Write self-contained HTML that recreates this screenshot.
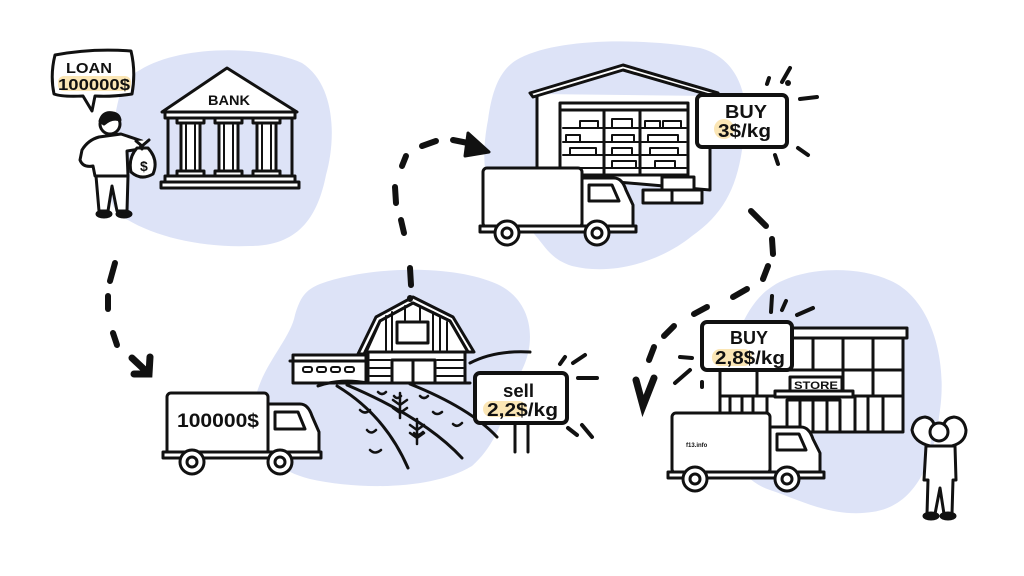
<!DOCTYPE html>
<html><head><meta charset="utf-8"><style>
html,body{margin:0;padding:0;background:#fff;}
svg{display:block;}
text{font-family:"Liberation Sans",sans-serif;font-weight:bold;fill:#111;}
</style></head><body>
<svg width="1024" height="576" viewBox="0 0 1024 576" xmlns="http://www.w3.org/2000/svg">
<rect width="1024" height="576" fill="#fff"/>
<!-- blobs -->
<g fill="#dde3f7">
<path d="M140,70 C180,45 262,45 302,63 C336,85 336,140 326,175 C318,215 300,246 250,246 C200,248 150,236 120,215 C100,195 104,150 114,120 C120,95 120,80 140,70 Z"/>
<path d="M520,58 C560,38 640,38 700,48 C745,60 752,110 742,150 C736,190 722,215 692,236 C660,262 612,276 572,266 C540,256 544,232 510,216 C484,200 480,160 488,120 C492,90 500,68 520,58 Z"/>
<path d="M320,284 C370,266 452,264 497,284 C532,300 537,340 522,370 C507,400 502,440 472,466 C432,490 360,490 310,479 C270,469 245,440 255,400 C262,365 290,340 295,315 C300,298 305,290 320,284 Z"/>
<path d="M770,288 C800,266 862,264 897,284 C932,305 947,360 940,410 C934,460 917,506 872,512 C832,518 800,500 770,490 C740,480 724,450 724,410 C722,370 740,308 770,288 Z"/>
</g>

<g stroke="#111" stroke-width="3" fill="#fff" stroke-linejoin="round" stroke-linecap="round">
<!-- speech bubble -->
<path d="M55,55 Q92,48 131,51 Q136,72 132,94 Q112,97 95,96 L92,111 L83,96 Q62,97 54,94 Q50,75 55,55 Z"/>
</g>
<rect x="58" y="76" width="73" height="15" rx="6" fill="#fbe6b5"/>
<text x="66" y="73" font-size="15" textLength="46" lengthAdjust="spacingAndGlyphs">LOAN</text>
<text x="58" y="90" font-size="16" textLength="72" lengthAdjust="spacingAndGlyphs">100000$</text>

<g stroke="#111" stroke-width="3" fill="#fff" stroke-linejoin="round" stroke-linecap="round">
<!-- person 1 -->
<path d="M99,137 Q88,140 82,150 L80,160 Q83,168 93,166 L95,176 L128,176 L127,151 L140,149 L142,141 L121,134 Z"/>
<path d="M96,176 L99,211 L108,211 L112,186 L117,211 L127,211 L128,176 Z"/>
<ellipse cx="104" cy="214" rx="7" ry="3" fill="#111"/>
<ellipse cx="124" cy="214" rx="7" ry="3" fill="#111"/>
<circle cx="110" cy="124" r="10"/>
<path d="M100,121 Q103,111 113,113 Q119,114 120,120 Q112,117 104,124 Z" fill="#111"/>
<!-- money bag -->
<path d="M137,148 Q128,158 131,172 Q141,181 153,174 Q159,160 148,148 Z"/>
<path d="M136,141 L142,146 L149,140 M142,146 L142,149"/>
<!-- bank -->
<path d="M162,112 L227,68 L297,112 Z"/>
<rect x="165" y="112" width="130" height="6"/>
<line x1="168" y1="118" x2="168" y2="176"/>
<line x1="292" y1="118" x2="292" y2="176"/>
<rect x="177" y="118" width="27" height="5"/>
<rect x="181" y="123" width="19" height="48"/>
<rect x="177" y="171" width="27" height="5"/>
<rect x="215" y="118" width="27" height="5"/>
<rect x="219" y="123" width="19" height="48"/>
<rect x="215" y="171" width="27" height="5"/>
<rect x="253" y="118" width="27" height="5"/>
<rect x="257" y="123" width="19" height="48"/>
<rect x="253" y="171" width="27" height="5"/>
<line x1="186" y1="125" x2="186" y2="169" stroke-width="2"/>
<line x1="195" y1="125" x2="195" y2="169" stroke-width="2"/>
<line x1="224" y1="125" x2="224" y2="169" stroke-width="2"/>
<line x1="233" y1="125" x2="233" y2="169" stroke-width="2"/>
<line x1="262" y1="125" x2="262" y2="169" stroke-width="2"/>
<line x1="271" y1="125" x2="271" y2="169" stroke-width="2"/>
<rect x="165" y="176" width="130" height="6"/>
<rect x="161" y="182" width="138" height="6"/>
</g>
<text x="140" y="171" font-size="14" font-weight="bold">$</text>
<text x="208" y="105" font-size="14" textLength="42" lengthAdjust="spacingAndGlyphs">BANK</text>

<!-- warehouse -->
<g stroke="#111" stroke-width="3" fill="#fff" stroke-linejoin="round" stroke-linecap="round">
<path d="M537,94 L537,175 L710,190 L710,96" />
<path d="M530,93 L623,65 L718,93 L716,97 L623,70 L533,97 Z"/>
<rect x="560" y="103" width="128" height="72"/>
<line x1="560" y1="110" x2="688" y2="110"/>
<line x1="604" y1="110" x2="604" y2="175"/>
<line x1="640" y1="110" x2="640" y2="175"/>
<g stroke-width="2">
<line x1="563" y1="128" x2="686" y2="128"/>
<line x1="563" y1="142" x2="686" y2="142"/>
<line x1="563" y1="155" x2="686" y2="155"/>
<line x1="563" y1="168" x2="686" y2="168"/>
<rect x="580" y="121" width="18" height="7"/>
<rect x="612" y="119" width="20" height="9"/>
<rect x="645" y="121" width="15" height="7"/>
<rect x="663" y="121" width="18" height="7"/>
<rect x="566" y="135" width="14" height="7"/>
<rect x="612" y="135" width="22" height="7"/>
<rect x="648" y="135" width="30" height="7"/>
<rect x="570" y="148" width="26" height="7"/>
<rect x="612" y="148" width="20" height="7"/>
<rect x="650" y="148" width="28" height="7"/>
<rect x="612" y="161" width="24" height="7"/>
<rect x="655" y="161" width="20" height="7"/>
</g>
<rect x="662" y="177" width="32" height="13"/>
<rect x="643" y="190" width="29" height="13"/>
<rect x="672" y="190" width="30" height="13"/>
<!-- truck 2 -->
<rect x="483" y="168" width="99" height="59" rx="4"/>
<path d="M582,178 L614,178 Q622,178 626,190 L633,205 L633,227 L582,227 Z"/>
<path d="M589,185 L612,185 L619,201 L589,201 Z"/>
<rect x="480" y="226" width="156" height="6"/>
<circle cx="507" cy="233" r="12"/><circle cx="507" cy="233" r="5"/>
<circle cx="597" cy="233" r="12"/><circle cx="597" cy="233" r="5"/>
<!-- sign BUY 3 -->
<rect x="697" y="95" width="90" height="52" rx="5" stroke-width="4"/>
</g>
<circle cx="724" cy="129" r="10" fill="#fbe6b5"/>
<text x="725" y="118" font-size="18" textLength="42" lengthAdjust="spacingAndGlyphs">BUY</text>
<text x="718" y="137" font-size="18" textLength="53" lengthAdjust="spacingAndGlyphs">3$/kg</text>

<!-- farm -->
<g stroke="#111" stroke-width="3" fill="#fff" stroke-linejoin="round" stroke-linecap="round">
<rect x="293" y="355" width="73" height="28"/>
<line x1="290" y1="361" x2="368" y2="361"/>
<g stroke-width="2"><rect x="303" y="367" width="9" height="5" rx="2"/><rect x="317" y="367" width="9" height="5" rx="2"/><rect x="331" y="367" width="9" height="5" rx="2"/><rect x="345" y="367" width="9" height="5" rx="2"/></g>
<rect x="368" y="352" width="97" height="31"/>
<path d="M358,354 L376,317 L413,297 L453,317 L474,352 L468,352 L450,321 L413,303 L380,321 L364,354 Z"/>
<path d="M366,352 L380,321 L413,303 L450,321 L468,352 Z"/>
<g stroke-width="2">
<line x1="386" y1="316" x2="386" y2="350"/><line x1="392" y1="312" x2="392" y2="350"/>
<line x1="433" y1="312" x2="433" y2="350"/><line x1="440" y1="316" x2="440" y2="350"/><line x1="447" y1="322" x2="447" y2="350"/>
<line x1="405" y1="306" x2="405" y2="320"/><line x1="420" y1="306" x2="420" y2="320"/>
<line x1="370" y1="360" x2="390" y2="360"/><line x1="370" y1="368" x2="390" y2="368"/><line x1="370" y1="376" x2="390" y2="376"/>
<line x1="437" y1="360" x2="463" y2="360"/><line x1="437" y1="368" x2="463" y2="368"/><line x1="437" y1="376" x2="463" y2="376"/>
</g>
<rect x="397" y="322" width="31" height="21"/>
<rect x="392" y="360" width="21" height="23"/>
<rect x="413" y="360" width="22" height="23"/>
<path d="M470,363 Q495,350 530,352" fill="none"/>
<path d="M318,386 Q340,378 368,383 L470,383" fill="none"/>
<path d="M337,386 Q385,415 408,468" fill="none"/>
<path d="M347,385 Q425,418 462,458" fill="none"/>
<path d="M410,384 Q470,408 497,437" fill="none"/>
<g stroke-width="2.5" fill="none">
<path d="M378,392 q4,4 8,0 M394,396 q3,4 7,0 M360,410 q5,5 10,0 M367,430 q4,5 9,0 M370,450 q5,5 11,0 M414,433 q4,4 9,-1 M433,412 q4,4 9,0 M453,424 q4,4 9,-1 M420,396 q4,4 8,0"/>
<path d="M400,393 L400,418 M393,400 l7,5 M407,400 l-7,5 M393,408 l7,5 M407,408 l-7,5"/>
<path d="M417,419 L417,444 M410,425 l7,5 M424,425 l-7,5 M410,433 l7,5 M424,433 l-7,5"/>
</g>
<!-- sell sign -->
<line x1="515" y1="420" x2="515" y2="452"/>
<line x1="528" y1="420" x2="528" y2="452"/>
<rect x="475" y="373" width="92" height="50" rx="5" stroke-width="4"/>
<!-- truck 1 -->
<rect x="167" y="393" width="101" height="62" rx="4"/>
<path d="M268,404 L300,404 Q308,404 312,416 L319,432 L319,454 L268,454 Z"/>
<path d="M275,412 L298,412 L305,429 L275,429 Z"/>
<rect x="163" y="452" width="158" height="6"/>
<circle cx="192" cy="462" r="12"/><circle cx="192" cy="462" r="5"/>
<circle cx="280" cy="462" r="12"/><circle cx="280" cy="462" r="5"/>
</g>
<rect x="483" y="401" width="44" height="16" rx="8" fill="#fbe6b5"/>
<text x="503" y="397" font-size="18" textLength="31" lengthAdjust="spacingAndGlyphs">sell</text>
<text x="487" y="416" font-size="18" textLength="71" lengthAdjust="spacingAndGlyphs">2,2$/kg</text>
<text x="177" y="427" font-size="19" textLength="82" lengthAdjust="spacingAndGlyphs">100000$</text>

<!-- store -->
<g stroke="#111" stroke-width="3" fill="#fff" stroke-linejoin="round" stroke-linecap="round">
<rect x="720" y="338" width="183" height="94"/>
<rect x="792" y="328" width="115" height="10"/>
<line x1="720" y1="370" x2="903" y2="370"/>
<line x1="720" y1="396" x2="903" y2="396"/>
<line x1="813" y1="338" x2="813" y2="370"/><line x1="843" y1="338" x2="843" y2="396"/><line x1="873" y1="338" x2="873" y2="396"/>
<line x1="757" y1="370" x2="757" y2="396"/>
<line x1="730" y1="396" x2="730" y2="432"/><line x1="742" y1="396" x2="742" y2="432"/><line x1="753" y1="396" x2="753" y2="432"/><line x1="767" y1="396" x2="767" y2="432"/>
<line x1="855" y1="396" x2="855" y2="432"/><line x1="868" y1="396" x2="868" y2="432"/><line x1="883" y1="396" x2="883" y2="432"/>
<rect x="790" y="377" width="52" height="14"/>
<rect x="775" y="391" width="78" height="6"/>
<rect x="787" y="400" width="53" height="32"/>
<line x1="800" y1="400" x2="800" y2="432"/><line x1="813" y1="400" x2="813" y2="432"/><line x1="827" y1="400" x2="827" y2="432"/>
<!-- sign BUY 2.8 -->
<rect x="702" y="322" width="90" height="48" rx="5" stroke-width="4"/>
<!-- truck 3 -->
<rect x="672" y="413" width="98" height="60" rx="4"/>
<path d="M770,427 L801,427 Q809,427 813,439 L820,453 L820,473 L770,473 Z"/>
<path d="M777,434 L799,434 L806,450 L777,450 Z"/>
<rect x="668" y="472" width="156" height="6"/>
<circle cx="695" cy="479" r="12"/><circle cx="695" cy="479" r="5"/>
<circle cx="787" cy="479" r="12"/><circle cx="787" cy="479" r="5"/>
<!-- person 2 -->
<path d="M926,446 L924,480 L928,480 L927,514 L935,514 L940,488 L944,514 L952,514 L953,480 L956,480 L955,446 Z"/>
<path d="M930,446 Q914,442 912,430 Q914,418 925,417 Q932,418 934,424 M952,446 Q966,442 966,430 Q964,418 954,417 Q946,418 944,424"/>
<circle cx="939" cy="432" r="9"/>
<ellipse cx="931" cy="516" rx="7" ry="3" fill="#111"/>
<ellipse cx="948" cy="516" rx="7" ry="3" fill="#111"/>
</g>
<rect x="712" y="349" width="40" height="17" rx="8" fill="#fbe6b5"/>
<text x="730" y="344" font-size="18" textLength="38" lengthAdjust="spacingAndGlyphs">BUY</text>
<text x="715" y="364" font-size="18" textLength="70" lengthAdjust="spacingAndGlyphs">2,8$/kg</text>
<text x="794" y="389" font-size="11" font-weight="normal" textLength="44" lengthAdjust="spacingAndGlyphs">STORE</text>
<text x="686" y="447" font-size="6" font-weight="normal">f13.info</text>

<!-- dashed connectors & rays -->
<g stroke="#111" stroke-width="6" fill="none" stroke-linecap="round">
<line x1="115" y1="263" x2="110" y2="281"/>
<line x1="108" y1="296" x2="108" y2="309"/>
<line x1="113" y1="333" x2="117" y2="345"/>
<path d="M132,358 L148,373 M150,357 L149,374 L134,374" stroke-width="7"/>

<line x1="410" y1="298" x2="410" y2="299"/>
<line x1="410" y1="268" x2="411" y2="285"/>
<line x1="401" y1="220" x2="404" y2="233"/>
<line x1="395" y1="187" x2="396" y2="203"/>
<line x1="402" y1="166" x2="406" y2="156"/>
<line x1="422" y1="146" x2="436" y2="141"/>
<line x1="453" y1="140" x2="468" y2="143"/>
<line x1="788" y1="83" x2="788" y2="83"/>

<line x1="751" y1="211" x2="766" y2="226"/>
<line x1="772" y1="239" x2="773" y2="254"/>
<line x1="768" y1="266" x2="763" y2="279"/>
<line x1="747" y1="289" x2="733" y2="297"/>
<line x1="707" y1="307" x2="694" y2="314"/>
<line x1="674" y1="326" x2="664" y2="336"/>
<line x1="654" y1="347" x2="649" y2="360"/>
<path d="M636,380 L643,406 L654,378" stroke-width="7"/>
</g>
<polygon points="468,133 489,152 465,156" fill="#111" stroke="#111" stroke-width="3" stroke-linejoin="round"/>
<g stroke="#111" stroke-width="4" stroke-linecap="round">
<line x1="767" y1="84" x2="769" y2="78"/>
<line x1="782" y1="82" x2="790" y2="68"/>
<line x1="800" y1="99" x2="817" y2="97"/>
<line x1="798" y1="148" x2="808" y2="155"/>
<line x1="775" y1="155" x2="778" y2="164"/>
<line x1="560" y1="364" x2="565" y2="357"/>
<line x1="573" y1="363" x2="585" y2="355"/>
<line x1="578" y1="378" x2="597" y2="378"/>
<line x1="568" y1="428" x2="577" y2="435"/>
<line x1="582" y1="425" x2="592" y2="437"/>
<line x1="772" y1="296" x2="771" y2="312"/>
<line x1="786" y1="301" x2="782" y2="310"/>
<line x1="797" y1="315" x2="813" y2="308"/>
<line x1="680" y1="357" x2="692" y2="358"/>
<line x1="675" y1="383" x2="690" y2="370"/>
<line x1="702" y1="382" x2="702" y2="387"/>
</g>
</svg>
</body></html>
